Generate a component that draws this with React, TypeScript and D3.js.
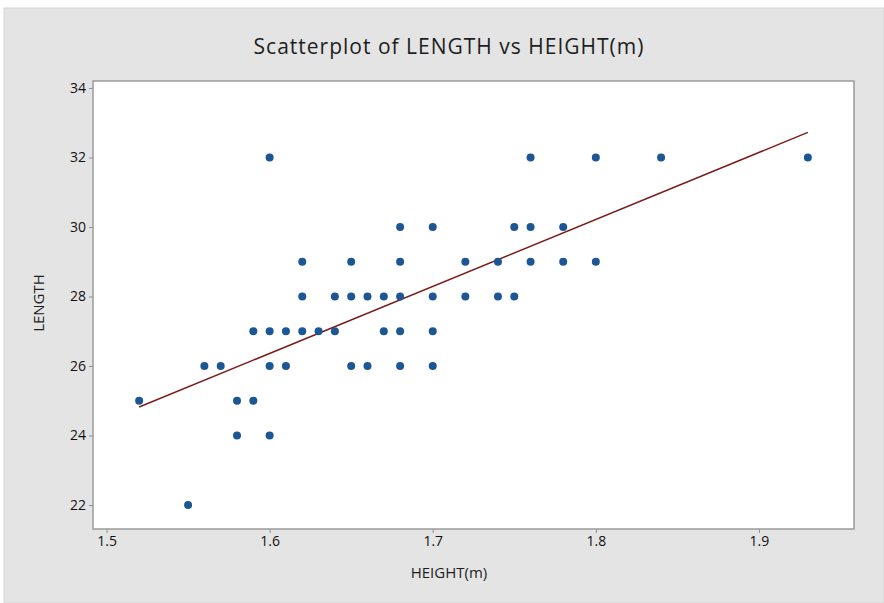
import React, { useEffect, useRef } from 'react';
import * as d3 from 'd3';

// HEIGHT(m) values and LENGTH values, one pair per point
const heights = [
  1.60, 1.76, 1.80, 1.84, 1.93,
  1.68, 1.70, 1.75, 1.76, 1.78,
  1.62, 1.65, 1.68, 1.72, 1.74, 1.76, 1.78, 1.80,
  1.62, 1.64, 1.65, 1.66, 1.67, 1.68, 1.70, 1.72, 1.74, 1.75,
  1.59, 1.60, 1.61, 1.62, 1.63, 1.64, 1.67, 1.68, 1.70,
  1.56, 1.57, 1.60, 1.61, 1.65, 1.66, 1.68, 1.70,
  1.52, 1.58, 1.59,
  1.58, 1.60,
  1.55,
];
const lengths = [
  32, 32, 32, 32, 32,
  30, 30, 30, 30, 30,
  29, 29, 29, 29, 29, 29, 29, 29,
  28, 28, 28, 28, 28, 28, 28, 28, 28, 28,
  27, 27, 27, 27, 27, 27, 27, 27, 27,
  26, 26, 26, 26, 26, 26, 26, 26,
  25, 25, 25,
  24, 24,
  22,
];

const xTicks = [1.5, 1.6, 1.7, 1.8, 1.9];
const yTicks = [22, 24, 26, 28, 30, 32, 34];

// fitted line
const fitIntercept = -4.47;
const fitSlope = 19.27;

const App = () => {
  const ref = useRef<SVGSVGElement>(null);

  useEffect(() => {
    const svg = d3.select(ref.current);
    svg.selectAll('*').remove();

    const width = 884;
    const height = 603;
    const left = 93, right = 854, top = 81, bottom = 529;

    svg.attr('width', width).attr('height', height);

    svg.append('rect')
      .attr('x', 4).attr('y', 8)
      .attr('width', width - 4).attr('height', height - 8)
      .attr('fill', '#e4e4e4')
      .attr('stroke', '#d6d6d6');

    const x = d3.scaleLinear().domain([1.4917, 1.9583]).range([left, right]);
    const y = d3.scaleLinear().domain([21.31, 34.2]).range([bottom, top]);

    svg.append('rect')
      .attr('x', left).attr('y', top)
      .attr('width', right - left).attr('height', bottom - top)
      .attr('fill', '#ffffff');

    const font = "'Open Sans', 'DejaVu Sans', sans-serif";

    svg.append('text')
      .attr('x', 449).attr('y', 54)
      .attr('text-anchor', 'middle')
      .style('font-family', font)
      .style('font-size', '21px')
      .style('letter-spacing', '1px')
      .attr('fill', '#1e1e1e')
      .text('Scatterplot of LENGTH vs HEIGHT(m)');

    const xAxis = svg.append('g')
      .attr('transform', `translate(0, ${bottom})`)
      .call(d3.axisBottom(x).tickValues(xTicks).tickFormat(d3.format('.1f')).tickSize(4).tickPadding(3));
    const yAxis = svg.append('g')
      .attr('transform', `translate(${left}, 0)`)
      .call(d3.axisLeft(y).tickValues(yTicks).tickSize(4).tickPadding(3));

    [xAxis, yAxis].forEach(a => {
      a.select('.domain').remove();
      a.selectAll('line').attr('stroke', '#8c8c8c');
      a.selectAll('text')
        .style('font-family', font)
        .style('font-size', '14px')
        .attr('fill', '#111111');
    });

    svg.append('rect')
      .attr('x', left).attr('y', top)
      .attr('width', right - left).attr('height', bottom - top)
      .attr('fill', 'none')
      .attr('stroke', '#9a9a9a')
      .attr('stroke-width', 1.5);

    svg.append('text')
      .attr('x', 449).attr('y', 578)
      .attr('text-anchor', 'middle')
      .style('font-family', font)
      .style('font-size', '15px')
      .attr('fill', '#1e1e1e')
      .text('HEIGHT(m)');

    svg.append('text')
      .attr('transform', `translate(44, 303) rotate(-90)`)
      .attr('text-anchor', 'middle')
      .style('font-family', font)
      .style('font-size', '15px')
      .attr('fill', '#1e1e1e')
      .text('LENGTH');

    const [x0, x1] = d3.extent(heights) as [number, number];
    const line = d3.line<number>()
      .x(d => x(d))
      .y(d => y(fitIntercept + fitSlope * d));
    svg.append('path')
      .datum([x0, x1])
      .attr('d', line)
      .attr('fill', 'none')
      .attr('stroke', '#7a1c1c')
      .attr('stroke-width', 1.5);

    svg.append('g')
      .selectAll('circle')
      .data(heights.map((h, i) => [h, lengths[i]]))
      .enter().append('circle')
      .attr('cx', d => x(d[0]))
      .attr('cy', d => y(d[1]))
      .attr('r', 4)
      .attr('fill', '#1d5694');
  }, []);

  return <svg ref={ref} style={{ position: 'absolute', left: 0, top: 0 }}></svg>;
};

export default App;
